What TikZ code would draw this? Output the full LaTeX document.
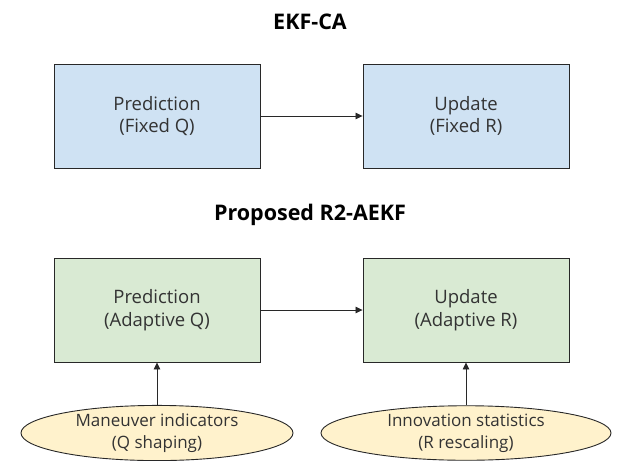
\documentclass[tikz,border=0pt]{standalone}
\usepackage{fontspec}
\setmainfont{Open Sans}
\usetikzlibrary{shapes.geometric,arrows.meta}
\definecolor{boxblue}{RGB}{207,226,243}
\definecolor{boxgreen}{RGB}{217,234,211}
\definecolor{ovalyellow}{RGB}{255,242,204}
\definecolor{edge}{RGB}{40,40,40}
\tikzset{
  stage/.style={draw=edge, line width=0.9pt, minimum width=206pt, minimum height=104pt,
    align=center, font=\fontsize{18.5}{22.5}\selectfont, text=black!80, inner sep=0pt},
  source/.style={ellipse, draw=edge, line width=0.9pt, fill=ovalyellow, align=center,
    font=\fontsize{17}{22}\selectfont, text=black!80, inner sep=0pt},
  heading/.style={font=\fontsize{21.5}{24}\selectfont\bfseries},
  flow/.style={draw=edge, line width=0.8pt, -{Triangle[length=7pt,width=6.5pt]}}
}
\begin{document}
\begin{tikzpicture}[x=1pt,y=-1pt]
\useasboundingbox (0,0) rectangle (617,460);
% fixed-noise filter
\node[heading] (t1) at (310,22) {EKF-CA};
\node[stage, fill=boxblue] (p1) at (157,116) {Prediction\\(Fixed Q)};
\node[stage, fill=boxblue] (u1) at (466,116) {Update\\(Fixed R)};
\draw[flow] (p1) -- (u1);
% adaptive filter
\node[heading] (t2) at (310,215) {Proposed R2-AEKF};
\node[stage, fill=boxgreen] (p2) at (157,310) {Prediction\\(Adaptive Q)};
\node[stage, fill=boxgreen] (u2) at (466,310) {Update\\(Adaptive R)};
\draw[flow] (p2) -- (u2);
\node[source, minimum width=272pt, minimum height=54pt] (m) at (157,433) {Maneuver indicators\\(Q shaping)};
\node[source, minimum width=290pt, minimum height=54pt] (s) at (466,433) {Innovation statistics\\(R rescaling)};
\draw[flow] (m) -- (p2);
\draw[flow] (s) -- (u2);
\end{tikzpicture}
\end{document}
